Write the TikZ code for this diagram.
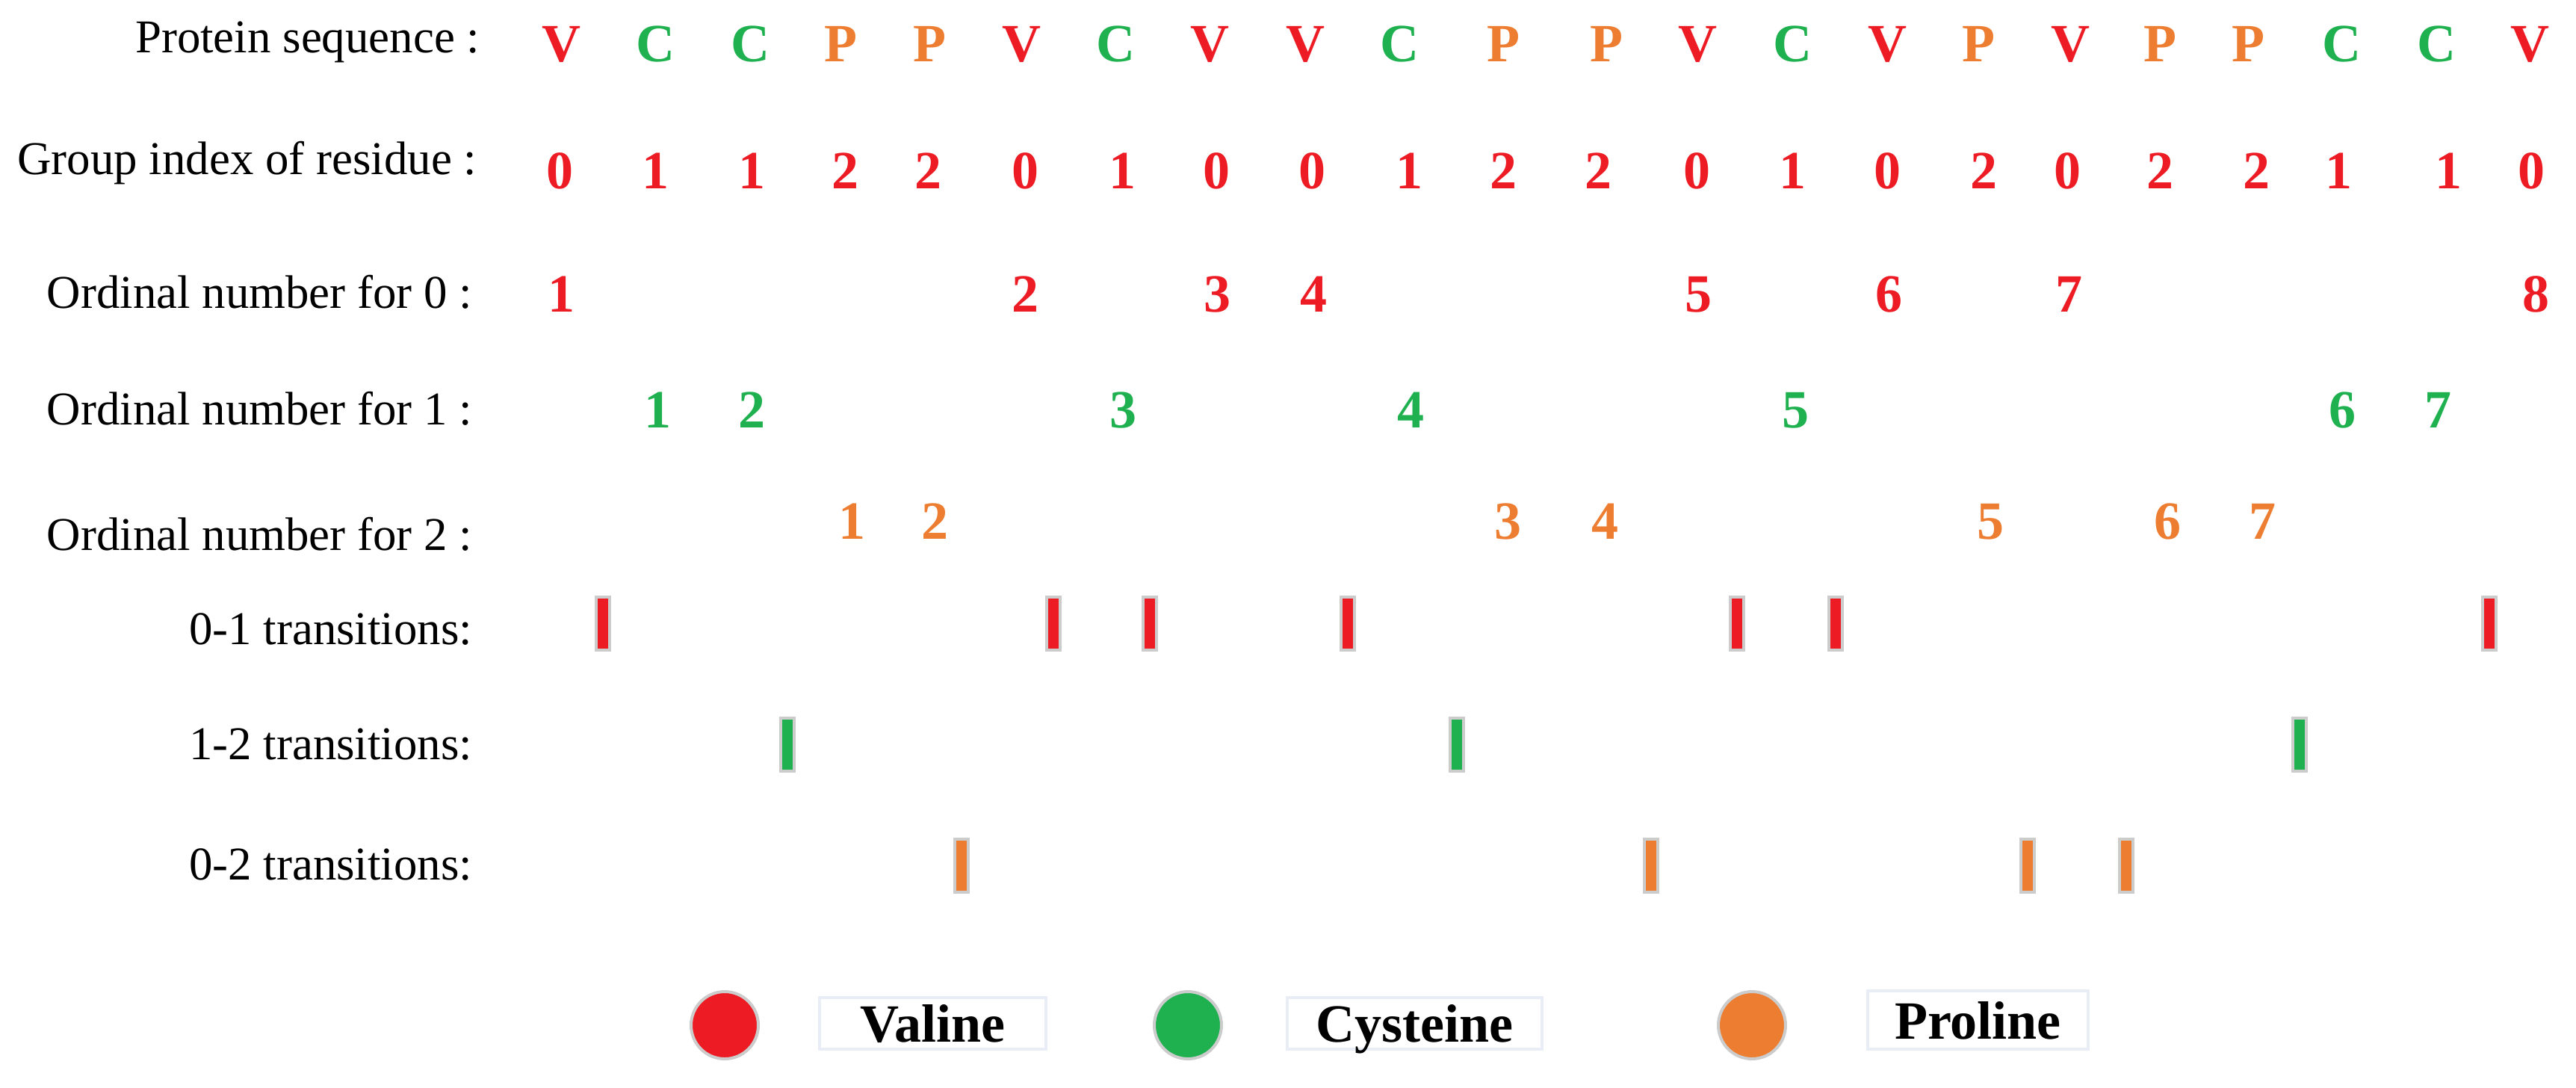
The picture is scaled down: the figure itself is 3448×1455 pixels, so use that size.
\documentclass[tikz,border=0pt]{standalone}
\usepackage{fontspec}
\setmainfont{Liberation Serif}
\definecolor{cV}{HTML}{ED1C24}
\definecolor{cC}{HTML}{1FB14F}
\definecolor{cP}{HTML}{ED7D31}
\definecolor{barborder}{HTML}{CCCCCC}
\definecolor{boxborder}{HTML}{E8EDF6}
\newcommand{\lblfont}{\fontsize{17.9pt}{20pt}\selectfont}
\newcommand{\seqfont}{\fontsize{20.5pt}{23pt}\selectfont\bfseries}
\begin{document}
\begin{tikzpicture}[x=0.1mm,y=-0.1mm,
  lbl/.style={anchor=base east,inner sep=0pt,font=\lblfont},
  seq/.style={anchor=base,inner sep=0pt,font=\seqfont},
  tbar/.style={rectangle,draw=barborder,line width=0.4mm,fill=#1,inner sep=0pt,minimum width=1.8mm,minimum height=7.1mm},
  legdot/.style={circle,draw=barborder,line width=0.4mm,fill=#1,minimum size=9mm,inner sep=0pt},
  legbox/.style={rectangle,draw=boxborder,line width=0.4mm,fill=white,inner sep=0pt,font=\seqfont,text height=5mm,text depth=0mm,minimum height=6.9mm}
]
\path[use as bounding box] (0,0) rectangle (3448,1455);

% row labels
\node[lbl] (lseq) at (643,70) {Protein sequence :};
\node[lbl] (lgrp) at (639,233) {Group index of residue :};
\node[lbl] (lo0) at (633,412) {Ordinal number for 0 :};
\node[lbl] (lo1) at (633,568) {Ordinal number for 1 :};
\node[lbl] (lo2) at (633,736) {Ordinal number for 2 :};
\node[lbl] (lt01) at (633,862) {0-1 transitions:};
\node[lbl] (lt12) at (633,1016) {1-2 transitions:};
\node[lbl] (lt02) at (633,1177) {0-2 transitions:};

% protein sequence
\foreach \x/\c/\col [count=\i] in {752/V/cV, 878/C/cC, 1005/C/cC, 1125/P/cP, 1244/P/cP, 1368/V/cV, 1494/C/cC, 1620/V/cV, 1747/V/cV, 1873/C/cC, 2012/P/cP, 2150/P/cP, 2272/V/cV, 2399/C/cC, 2526/V/cV, 2648/P/cP, 2771/V/cV, 2891/P/cP, 3009/P/cP, 3134/C/cC, 3261/C/cC, 3386/V/cV}
  \node[seq,text=\col] (s\i) at (\x,82) {\c};

% group index
\foreach \x/\d [count=\i] in {750/0, 878/1, 1007/1, 1132/2, 1243/2, 1372/0, 1502/1, 1628/0, 1756/0, 1886/1, 2012/2, 2139/2, 2271/0, 2399/1, 2526/0, 2655/2, 2767/0, 2891/2, 3020/2, 3130/1, 3277/1, 3388/0}
  \node[seq,text=cV] (g\i) at (\x,252) {\d};

% ordinal numbers
\foreach \x/\d in {752/1, 1373/2, 1629/3, 1758/4, 2273/5, 2528/6, 2769/7, 3394/8}
  \node[seq,text=cV] (oa\d) at (\x,417) {\d};
\foreach \x/\d in {881/1, 1007/2, 1503/3, 1888/4, 2403/5, 3135/6, 3263/7}
  \node[seq,text=cC] (ob\d) at (\x,572) {\d};
\foreach \x/\d in {1141/1, 1251/2, 2018/3, 2148/4, 2664/5, 2901/6, 3028/7}
  \node[seq,text=cP] (oc\d) at (\x,721) {\d};

% transition bars
\foreach \x [count=\i] in {807, 1410, 1539, 1804, 2325, 2457, 3332}
  \node[tbar=cV] (ta\i) at (\x,834.5) {};
\foreach \x [count=\i] in {1054, 1950, 3078}
  \node[tbar=cC] (tb\i) at (\x,996.5) {};
\foreach \x [count=\i] in {1287, 2210, 2714, 2846}
  \node[tbar=cP] (tc\i) at (\x,1158.5) {};

% legend
\node[legdot=cV] (dotV) at (970,1372) {};
\node[legbox,minimum width=30.3mm] (boxV) at (1248.5,1369.5) {Valine};
\node[legdot=cC] (dotC) at (1590,1372) {};
\node[legbox,minimum width=34.1mm] (boxC) at (1893.5,1369.5) {Cysteine};
\node[legdot=cP] (dotP) at (2345,1372) {};
\node[legbox,minimum width=29.5mm,minimum height=7.8mm] (boxP) at (2647.5,1365) {Proline};
\end{tikzpicture}
\end{document}
